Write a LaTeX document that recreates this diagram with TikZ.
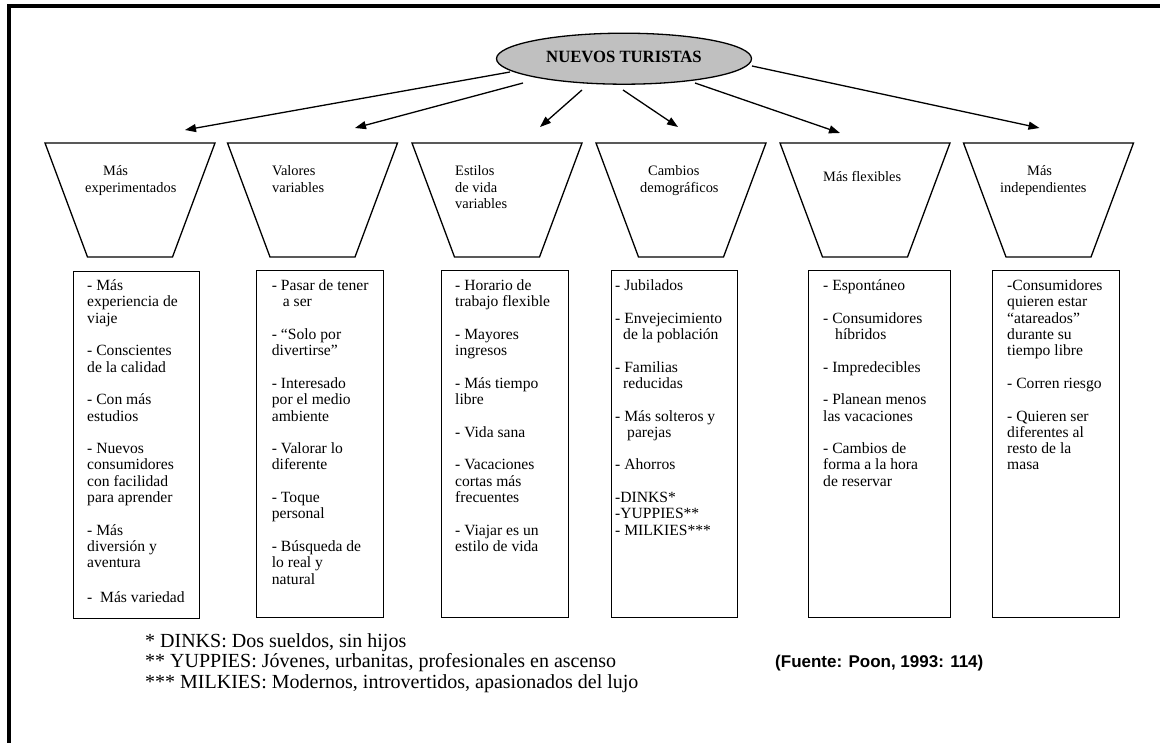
\documentclass[tikz,border=0pt]{standalone}
\usepackage{fontspec}
\usepackage{graphicx}
\setmainfont{Liberation Serif}
\newfontfamily\sourcefont{Liberation Sans}
\usetikzlibrary{shapes.geometric,arrows.meta}
\definecolor{ovalgrey}{RGB}{192,192,192}

\tikzset{
  frame/.style={line width=4.5pt},
  arr/.style={line width=1.3pt, -{Triangle[length=11pt,width=8pt]}},
  funnelbox/.style={rectangle, minimum width=170pt, minimum height=114pt,
    inner sep=0pt, outer sep=0pt},
  funnelline/.style={line width=1.3pt, line join=miter},
  head/.style={font=\fontsize{14.4}{16.4}\selectfont, align=left,
    anchor=north west, inner sep=0pt},
  card/.style={draw, line width=1.2pt, minimum height=347pt,
    anchor=north west, inner sep=0pt},
  cardtext/.style={font=\fontsize{15.6}{16.3}\selectfont, align=left,
    anchor=north west, inner sep=0pt},
  note/.style={font=\fontsize{20}{20}\selectfont, anchor=base west, inner sep=0pt},
}
\newcommand{\gap}{\\[16.3pt]}

\begin{document}
\begin{tikzpicture}[x=1pt,y=-1pt]
\useasboundingbox (0,0) rectangle (1160,743);

% page frame (top and left edges)
\draw[frame] (9,743) -- (9,6) -- (1160,6);

% central concept
\node[draw, ellipse, fill=ovalgrey, line width=1.3pt, minimum width=255pt,
      minimum height=51pt, inner sep=0pt] (nt) at (624,58.7)
      {\raisebox{3.5pt}{\fontsize{17.2}{20}\selectfont\bfseries\scalebox{0.97}[1]{NUEVOS TURISTAS}}};

% funnels: a frame node each, outlined as an inverted trapezoid
\node[funnelbox] (t1) at (130,200) {};
\node[funnelbox] (t2) at (312.5,200) {};
\node[funnelbox] (t3) at (497,200) {};
\node[funnelbox] (t4) at (681,200) {};
\node[funnelbox] (t5) at (865,200) {};
\node[funnelbox] (t6) at (1048.5,200) {};
\foreach \t in {t1,t2,t3,t4,t5,t6}
  \draw[funnelline] (\t.north west) -- (\t.north east)
    -- ([xshift=-42.5pt]\t.south east) -- ([xshift=42.5pt]\t.south west) -- cycle;

\node[head] (h1) at (85,164) {\strut\hspace*{18pt}Más\\experimentados};
\node[head] (h2) at (272,164) {\strut Valores\\variables};
\node[head] (h3) at (455,164) {\strut Estilos\\de vida\\variables};
\node[head] (h4) at (640,164) {\strut\hspace*{8pt}Cambios\\demográficos};
\node[head] (h5) at (823,170) {\strut Más flexibles};
\node[head] (h6) at (1000,164) {\strut\hspace*{27pt}Más\\independientes};

% arrows from the central concept
\draw[arr] ([shift={(-114,13.3)}]nt.center) -- ([shift={(55,-70)}]t1.center);
\draw[arr] ([shift={(-101,24.3)}]nt.center) -- ([shift={(42.5,-72)}]t2.center);
\draw[arr] ([shift={(-42,31.3)}]nt.center) -- ([shift={(43,-73)}]t3.center);
\draw[arr] ([shift={(-1,31.3)}]nt.center) -- ([shift={(-3,-73)}]t4.center);
\draw[arr] ([shift={(71,24.3)}]nt.center) -- ([shift={(-25,-67)}]t5.center);
\draw[arr] ([shift={(128,7.3)}]nt.center) -- ([shift={(-9,-72)}]t6.center);

% detail boxes
\node[card, minimum width=126.3pt] (b1) at (72.7,271) {};
\node[card, minimum width=127pt] (b2) at (256,270) {};
\node[card, minimum width=127pt] (b3) at (441,270) {};
\node[card, minimum width=126pt] (b4) at (611,270) {};
\node[card, minimum width=142pt] (b5) at (808,270) {};
\node[card, minimum width=127pt] (b6) at (992,270) {};

\node[cardtext] (c1) at (87,279) {\strut- Más\\experiencia de\\viaje\gap
- Conscientes\\de la calidad\gap
- Con más\\estudios\gap
- Nuevos\\consumidores\\con facilidad\\para aprender\gap
- Más\\diversión y\\aventura\\[18pt]
-~ Más variedad};

\node[cardtext] (c2) at (271.7,279) {\strut- Pasar de tener\\\hspace*{11pt}a ser\gap
- “Solo por\\divertirse”\gap
- Interesado\\por el medio\\ambiente\gap
- Valorar lo\\diferente\gap
- Toque\\personal\gap
- Búsqueda de\\lo real y\\natural};

\node[cardtext] (c3) at (455,279) {\strut- Horario de\\trabajo flexible\gap
- Mayores\\ingresos\gap
- Más tiempo\\libre\gap
- Vida sana\gap
- Vacaciones\\cortas más\\frecuentes\gap
- Viajar es un\\estilo de vida};

\node[cardtext] (c4) at (615,279) {\strut- Jubilados\gap
- Envejecimiento\\\hspace*{8pt}de la población\gap
- Familias\\\hspace*{8pt}reducidas\gap
- Más solteros y\\\hspace*{12pt}parejas\gap
- Ahorros\gap
-DINKS*\\-YUPPIES**\\- MILKIES***};

\node[cardtext] (c5) at (823,279) {\strut- Espontáneo\gap
- Consumidores\\\hspace*{12pt}híbridos\gap
- Impredecibles\gap
- Planean menos\\las vacaciones\gap
- Cambios de\\forma a la hora\\de reservar};

\node[cardtext] (c6) at (1007,279) {\strut-Consumidores\\quieren estar\\“atareados”\\durante su\\tiempo libre\gap
- Corren riesgo\gap
- Quieren ser\\diferentes al\\resto de la\\masa};

% footnotes and source
\node[note] (f1) at (145,647) {* DINKS: Dos sueldos, sin hijos};
\node[note] (f2) at (145,667) {** YUPPIES: Jóvenes, urbanitas, profesionales en ascenso};
\node[note] (f3) at (145,688) {*** MILKIES: Modernos, introvertidos, apasionados del lujo};
\node[anchor=base west, inner sep=0pt, font=\sourcefont\bfseries\fontsize{17}{20}\selectfont]
  (src) at (775,667) {(Fuente: Poon, 1993: 114)};
\end{tikzpicture}
\end{document}
